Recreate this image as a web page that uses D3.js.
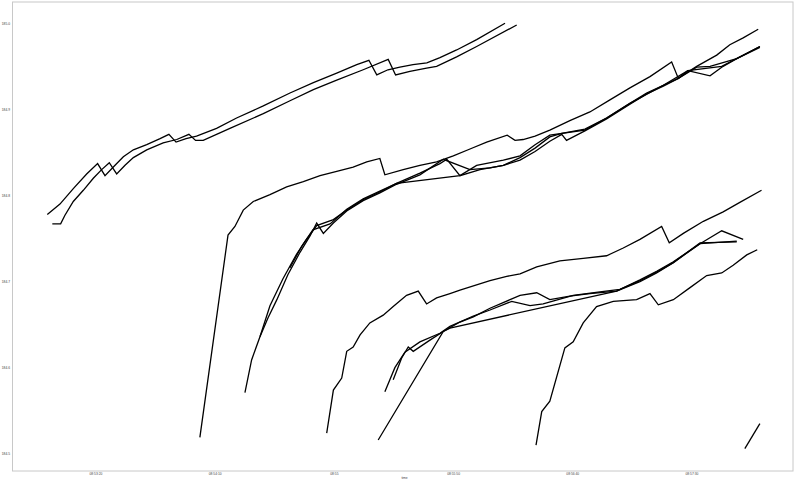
<!DOCTYPE html>
<html><head><meta charset="utf-8">
<script src="https://cdn.jsdelivr.net/npm/d3@7"></script>
<style>html,body{margin:0;padding:0;background:#fff;}svg{display:block;}</style>
</head><body>
<svg id="chart" width="800" height="481"></svg>
<script>
// Times: seconds after 08:52:00 ; values: price
const aT = [59.8,65.1,70.7,76.3,80.9,84.0,87.5,91.7,95.9,101.5,107.1,110.8,113.8,118.0,122.4,130.8,139.2,150.4,161.6,171.4,181.2,189.6,194.7,198.0,202.7,207.7,213.2,219.0,224.5,231.5,239.9,251.8];
const aV = [184.778,184.790,184.808,184.825,184.837,184.823,184.833,184.845,184.853,184.859,184.866,184.871,184.862,184.866,184.869,184.878,184.890,184.904,184.919,184.931,184.942,184.952,184.957,184.940,184.946,184.949,184.952,184.954,184.960,184.969,184.981,185.000];

const bT = [61.9,65.4,67.2,70.7,74.9,79.1,82.6,85.8,88.9,92.4,95.9,101.5,108.4,114.1,119.2,122.0,125.2,136.4,150.4,161.6,171.4,181.2,192.3,202.8,205.9,211.9,218.9,223.1,231.5,239.9,256.7];
const bV = [184.767,184.767,184.777,184.793,184.806,184.820,184.830,184.838,184.825,184.835,184.844,184.853,184.861,184.865,184.871,184.864,184.864,184.878,184.895,184.910,184.923,184.934,184.946,184.958,184.940,184.944,184.948,184.950,184.961,184.973,184.998];

const cT = [123.8,135.6,138.5,142.0,146.2,153.2,160.2,167.2,174.2,181.2,188.1,193.8,199.3,201.4,209.1,216.1,223.1,230.1,237.1,244.1,252.7,256.0,259.4,264.4,270.6,279.0,287.4,295.8,304.2,312.6,321.7,324.5,332.2,340.6,346.1,351.7,358.0];
const cV = [184.519,184.754,184.764,184.783,184.793,184.801,184.810,184.816,184.823,184.828,184.833,184.839,184.843,184.824,184.830,184.835,184.839,184.846,184.854,184.862,184.870,184.864,184.865,184.869,184.876,184.887,184.897,184.911,184.925,184.938,184.955,184.936,184.950,184.963,184.975,184.983,184.993];

const d1T = [142.7,145.5,149.0,153.2,158.6,164.4,168.3,172.8,179.8,185.4,192.3,199.3,206.3,216.1,224.5,227.4,232.9,241.3,251.1,258.1,264.4,270.6,275.6,285.3,294.4,304.2,311.2,318.2,324.5,332.2,337.8,349.0,358.7];
const d1V = [184.571,184.609,184.636,184.672,184.703,184.732,184.748,184.765,184.772,184.783,184.795,184.804,184.814,184.826,184.837,184.842,184.823,184.830,184.835,184.844,184.855,184.868,184.872,184.877,184.890,184.907,184.919,184.928,184.936,184.949,184.950,184.959,184.973];

const d2T = [149.0,152.4,156.1,160.7,165.8,170.0,172.8,175.6,179.8,185.4,192.3,199.3,206.3,216.1,225.9,237.1,245.5,251.1,258.1,264.4,270.6,275.6,277.6,285.3,294.4,304.2,311.2,318.2,324.5,328.5,337.8,342.7,349.0,358.7];
const d2V = [184.636,184.658,184.679,184.708,184.734,184.753,184.768,184.756,184.768,184.782,184.794,184.803,184.813,184.824,184.842,184.830,184.832,184.835,184.841,184.851,184.863,184.871,184.864,184.875,184.889,184.906,184.918,184.927,184.936,184.945,184.939,184.949,184.959,184.972];

const d3T = [161.6,166.5,171.2,178.4,185.4,192.3,199.3,206.3,232.9,239.9,251.1,258.1,264.4,270.6,285.3,294.4,304.2,318.2,328.5,342.7,358.7];
const d3V = [184.716,184.741,184.760,184.767,184.784,184.796,184.805,184.814,184.823,184.835,184.841,184.846,184.859,184.870,184.876,184.890,184.907,184.928,184.945,184.950,184.973];

const eT = [177.0,179.8,183.3,185.4,188.1,191.0,195.1,200.7,204.9,210.5,215.4,218.9,223.1,228.7,232.9,245.5,252.5,258.1,265.1,274.8,284.6,294.4,301.4,308.4,317.5,320.7,326.6,335.0,343.3,350.3,359.4];
const eV = [184.524,184.574,184.588,184.619,184.624,184.638,184.652,184.661,184.671,184.684,184.689,184.674,184.681,184.686,184.690,184.701,184.706,184.709,184.717,184.724,184.727,184.730,184.739,184.749,184.764,184.745,184.756,184.770,184.781,184.792,184.806];

const f1T = [198.6,225.9,232.9,238.5,245.5,253.9,258.1,265.1,270.6,279.0,287.4,298.6,308.4,315.4,322.4,333.6,342.7,351.7];
const f1V = [184.516,184.642,184.653,184.659,184.669,184.679,184.684,184.687,184.679,184.683,184.686,184.689,184.702,184.712,184.723,184.744,184.759,184.749];

const f2T = [201.4,205.6,209.8,216.1,224.5,228.7,238.5,245.5,254.6,262.3,267.8,280.4,291.6,300.0,308.4,315.4,322.4,333.6,349.0];
const f2V = [184.572,184.600,184.618,184.630,184.640,184.648,184.660,184.667,184.677,184.672,184.674,184.684,184.688,184.691,184.701,184.711,184.722,184.745,184.746];

const f3T = [204.9,208.4,211.2,213.3,220.3,225.9,228.7,298.6,308.4,315.4,322.4,333.6,349.0];
const f3V = [184.586,184.611,184.624,184.619,184.632,184.642,184.646,184.689,184.700,184.710,184.722,184.744,184.747];

const hT = [264.8,267.2,270.6,276.9,280.4,284.6,290.2,297.2,307.0,312.6,316.1,322.4,329.4,336.4,342.7,347.5,353.2,357.6];
const hV = [184.510,184.549,184.561,184.623,184.630,184.652,184.671,184.677,184.679,184.686,184.673,184.679,184.693,184.707,184.710,184.719,184.731,184.737];

const iT = [352.4,358.7];
const iV = [184.506,184.535];

const tickSecs = [80,130,180,230,280,330];
const yTicks = [184.5,184.6,184.7,184.8,184.9,185.0];
const xLabel = "time";

const allSeries = [[aT,aV],[bT,bV],[cT,cV],[d1T,d1V],[d2T,d2V],[d3T,d3V],[eT,eV],[f1T,f1V],[f2T,f2V],[f3T,f3V],[hT,hV],[iT,iV]];

const base = new Date(2020,0,1,8,52,0);
const toDate = s => new Date(base.getTime() + s*1000);

const L = 12.5, R = 793, T = 2, B = 471;
const x = d3.scaleTime().domain([toDate(45.2), toDate(372.6)]).range([L, R]);
const y = d3.scaleLinear().domain([184.480, 185.0247]).range([B, T]);

const svg = d3.select("#chart");
const FONT = "Liberation Sans, Arial, sans-serif";
const FS = 3.3;

const line = d3.line().x(d => x(d[0])).y(d => y(d[1]));
allSeries.forEach(([ts, vs]) => {
  const pts = ts.map((t, i) => [toDate(t), vs[i]]);
  svg.append("path").datum(pts)
    .attr("d", line)
    .attr("fill", "none")
    .attr("stroke", "#000")
    .attr("stroke-width", 1.3)
    .attr("stroke-linejoin", "miter");
});

// frame
svg.append("rect").attr("x", L).attr("y", T).attr("width", R - L).attr("height", B - T)
  .attr("fill", "none").attr("stroke", "#c8c8c8").attr("stroke-width", 1);

const fmt = d => d.getSeconds() === 0 ? d3.timeFormat("%H:%M")(d) : d3.timeFormat("%H:%M:%S")(d);
const xAxis = d3.axisBottom(x).tickValues(tickSecs.map(toDate)).tickFormat(fmt).tickSize(0).tickPadding(1.5);
const gx = svg.append("g").attr("transform", `translate(0,${B})`).call(xAxis);
gx.select(".domain").remove();
gx.selectAll("text").attr("font-size", FS).attr("font-family", FONT).attr("fill", "#444");

const yAxis = d3.axisLeft(y).tickValues(yTicks).tickFormat(d3.format(".1f")).tickSize(0).tickPadding(2.5);
const gy = svg.append("g").attr("transform", `translate(${L},0)`).call(yAxis);
gy.select(".domain").remove();
gy.selectAll("text").attr("font-size", FS).attr("font-family", FONT).attr("fill", "#444");

svg.append("text").attr("x", 404.5).attr("y", 479).attr("text-anchor", "middle")
  .attr("font-size", FS).attr("font-family", FONT).attr("fill", "#444").text(xLabel);
</script>
</body></html>
